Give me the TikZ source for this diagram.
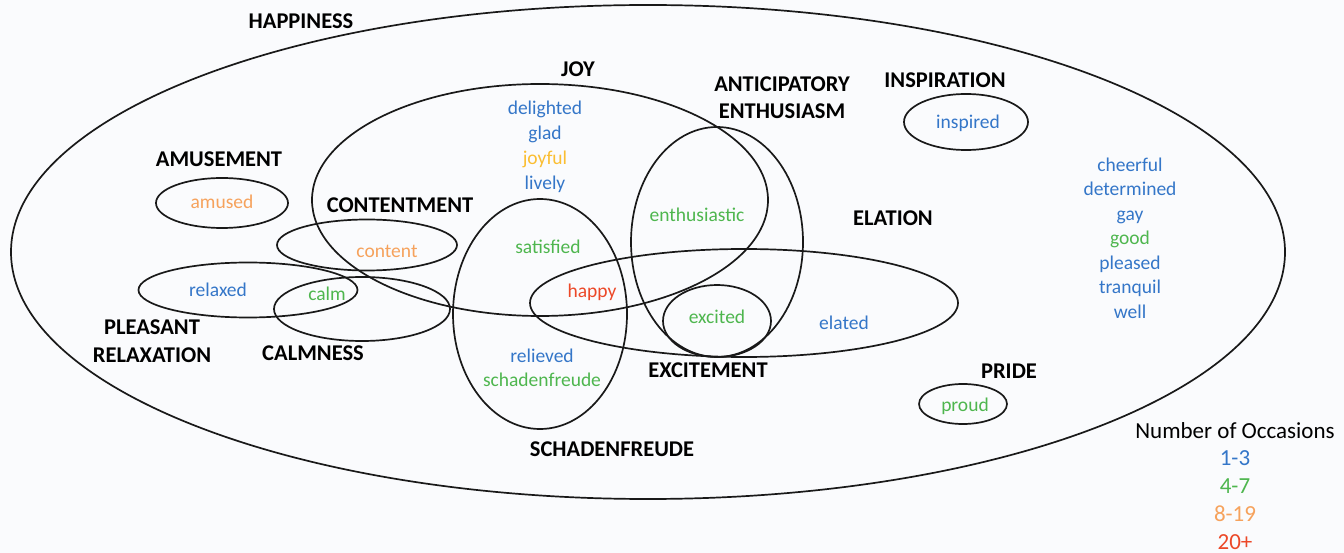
\documentclass[tikz,border=0pt]{standalone}
\usepackage{fontspec}
\setmainfont{Carlito}
\usetikzlibrary{shapes.geometric}
\definecolor{cblue}{RGB}{52,118,200}
\definecolor{cgreen}{RGB}{78,182,78}
\definecolor{corange}{RGB}{246,162,92}
\definecolor{cyellow}{RGB}{250,190,50}
\definecolor{cred}{RGB}{236,72,40}
\definecolor{bg}{RGB}{250,251,253}
\begin{document}
\begin{tikzpicture}[x=1pt,y=-1pt,
  ring/.style={draw=black!90, line width=1.7pt, ellipse, inner sep=0pt, outer sep=0pt},
  lab/.style={font=\fontsize{22.5}{27}\selectfont\bfseries, text=black, inner sep=0pt, text height=0.72em, text depth=0.2em, align=center, yshift=-4pt},
  wd/.style={font=\fontsize{19.5}{24.5}\selectfont, inner sep=0pt, text height=0.72em, text depth=0.2em, yshift=-4pt},
  leg/.style={font=\fontsize{23}{28}\selectfont, inner sep=0pt, text height=0.72em, text depth=0.2em, yshift=-4.5pt}]
\fill[bg] (0,0) rectangle (1344,553);
\useasboundingbox (0,0) rectangle (1344,553);
% ellipses
\node[ring, minimum width=1274pt, minimum height=494pt] (happiness) at (648,252) {};
\node[ring, minimum width=456pt, minimum height=232pt] (joy) at (540,200) {};
\node[ring, minimum width=172pt, minimum height=230pt] (antic) at (717,242) {};
\node[ring, minimum width=428pt, minimum height=108pt] (elation) at (744,303) {};
\node[ring, minimum width=174pt, minimum height=230pt] (schad) at (540,314) {};
\node[ring, minimum width=108pt, minimum height=72pt] (excite) at (717,321) {};
\node[ring, minimum width=132pt, minimum height=50pt] (amuse) at (222,203) {};
\node[ring, minimum width=180pt, minimum height=51pt] (content) at (367,245) {};
\node[ring, minimum width=219pt, minimum height=55pt] (relax) at (248,290) {};
\node[ring, minimum width=176pt, minimum height=64pt] (calmness) at (362,309) {};
\node[ring, minimum width=124pt, minimum height=56pt] (inspire) at (966,122) {};
\node[ring, minimum width=88pt, minimum height=40pt] (pride) at (963,404) {};
% category labels
\node[lab] (lhap) at (301,22) {HAPPINESS};
\node[lab] (ljoy) at (578,70) {JOY};
\node[lab] (lant1) at (782,85) {ANTICIPATORY};
\node[lab] (lant2) at (782,112) {ENTHUSIASM};
\node[lab] (linsp) at (945,81) {INSPIRATION};
\node[lab] (lamu) at (219,160) {AMUSEMENT};
\node[lab] (lcont) at (400,206) {CONTENTMENT};
\node[lab] (lela) at (893,219) {ELATION};
\node[lab] (lple1) at (152,328) {PLEASANT};
\node[lab] (lple2) at (152,356) {RELAXATION};
\node[lab] (lcalm) at (313,354) {CALMNESS};
\node[lab] (lexc) at (708,371) {EXCITEMENT};
\node[lab] (lpri) at (1009,372) {PRIDE};
\node[lab] (lsch) at (612,450) {SCHADENFREUDE};
% words
\node[wd, text=cblue] (w1) at (545,108) {delighted};
\node[wd, text=cblue] (w2) at (545,133) {glad};
\node[wd, text=cyellow] (w3) at (545,158) {joyful};
\node[wd, text=cblue] (w4) at (545,183) {lively};
\node[wd, text=cgreen] (w5) at (697,215) {enthusiastic};
\node[wd, text=cblue] (w6) at (968,122) {inspired};
\node[wd, text=corange] (w7) at (222,202) {amused};
\node[wd, text=corange] (w8) at (387,251) {content};
\node[wd, text=cblue] (w9) at (218,290) {relaxed};
\node[wd, text=cgreen] (w10) at (327,294) {calm};
\node[wd, text=cgreen] (w11) at (548,247) {satisfied};
\node[wd, text=cred] (w12) at (592,291) {happy};
\node[wd, text=cgreen] (w13) at (717,317) {excited};
\node[wd, text=cblue] (w14) at (844,323) {elated};
\node[wd, text=cblue] (w15) at (542,356) {relieved};
\node[wd, text=cgreen] (w16) at (542,380) {schadenfreude};
\node[wd, text=cgreen] (w17) at (965,405) {proud};
\node[wd, text=cblue] (c1) at (1130,165) {cheerful};
\node[wd, text=cblue] (c2) at (1130,189) {determined};
\node[wd, text=cblue] (c3) at (1130,214) {gay};
\node[wd, text=cgreen] (c4) at (1130,238) {good};
\node[wd, text=cblue] (c5) at (1130,263) {pleased};
\node[wd, text=cblue] (c6) at (1130,287) {tranquil};
\node[wd, text=cblue] (c7) at (1130,312) {well};
% legend
\node[leg, text=black] (lg0) at (1235,431) {Number of Occasions};
\node[leg, text=cblue] (lg1) at (1235,458) {1-3};
\node[leg, text=cgreen] (lg2) at (1235,486) {4-7};
\node[leg, text=corange] (lg3) at (1235,514) {8-19};
\node[leg, text=cred] (lg4) at (1235,542) {20+};
\end{tikzpicture}
\end{document}
